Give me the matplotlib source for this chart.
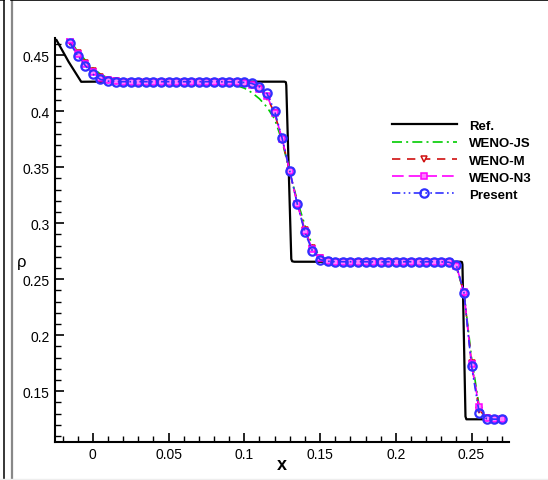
import matplotlib
matplotlib.use("Agg")
import matplotlib.pyplot as plt
from matplotlib.lines import Line2D
from matplotlib.ticker import MultipleLocator, FuncFormatter

plt.rcParams['font.family'] = ['Liberation Sans', 'DejaVu Sans']

# ---------------- data ----------------
x_num = [-0.015, -0.010, -0.005, 0.000, 0.005, 0.010, 0.015, 0.020, 0.025, 0.030,
         0.035, 0.040, 0.045, 0.050, 0.055, 0.060, 0.065, 0.070, 0.075, 0.080,
         0.085, 0.090, 0.095, 0.100, 0.105, 0.110, 0.115, 0.120, 0.125, 0.130,
         0.135, 0.140, 0.145, 0.150, 0.155, 0.160, 0.165, 0.170, 0.175, 0.180,
         0.185, 0.190, 0.195, 0.200, 0.205, 0.210, 0.215, 0.220, 0.225, 0.230,
         0.235, 0.240, 0.245, 0.250, 0.255, 0.260, 0.265, 0.270]

rho_present = [0.4604, 0.4494, 0.4407, 0.4330, 0.4283, 0.4268, 0.4264, 0.4263, 0.4263, 0.4263,
               0.4263, 0.4263, 0.4263, 0.4263, 0.4263, 0.4263, 0.4263, 0.4263, 0.4263, 0.4263,
               0.4262, 0.4261, 0.4260, 0.4256, 0.4247, 0.4217, 0.4158, 0.4000, 0.3756, 0.3464,
               0.3170, 0.2917, 0.2750, 0.2675, 0.2660, 0.2657, 0.2656, 0.2656, 0.2656, 0.2656,
               0.2656, 0.2656, 0.2656, 0.2656, 0.2656, 0.2656, 0.2656, 0.2656, 0.2656, 0.2655,
               0.2652, 0.2625, 0.2381, 0.1726, 0.1310, 0.1255, 0.1251, 0.1250]

rho_js = [0.4625, 0.4535, 0.4455, 0.4385, 0.4330, 0.4295, 0.4277, 0.4268, 0.4264, 0.4263,
          0.4263, 0.4263, 0.4263, 0.4263, 0.4263, 0.4262, 0.4262, 0.4261, 0.4260, 0.4258,
          0.4255, 0.4245, 0.4228, 0.4205, 0.4165, 0.4110, 0.4035, 0.3930, 0.3730, 0.3450,
          0.3200, 0.2980, 0.2800, 0.2703, 0.2668, 0.2659, 0.2657, 0.2656, 0.2656, 0.2656,
          0.2656, 0.2656, 0.2656, 0.2656, 0.2656, 0.2656, 0.2656, 0.2656, 0.2655, 0.2654,
          0.2648, 0.2605, 0.2380, 0.1800, 0.1370, 0.1275, 0.1256, 0.1251]

rho_m = [0.4615, 0.4515, 0.4430, 0.4355, 0.4305, 0.4280, 0.4268, 0.4264, 0.4263, 0.4263,
         0.4263, 0.4263, 0.4263, 0.4263, 0.4263, 0.4263, 0.4263, 0.4263, 0.4263, 0.4262,
         0.4261, 0.4259, 0.4256, 0.4250, 0.4232, 0.4195, 0.4125, 0.3980, 0.3745, 0.3462,
         0.3175, 0.2935, 0.2775, 0.2690, 0.2664, 0.2657, 0.2656, 0.2656, 0.2656, 0.2656,
         0.2656, 0.2656, 0.2656, 0.2656, 0.2656, 0.2656, 0.2656, 0.2656, 0.2656, 0.2655,
         0.2650, 0.2615, 0.2380, 0.1750, 0.1335, 0.1262, 0.1252, 0.1250]

rho_n3 = [0.4635, 0.4510, 0.4425, 0.4350, 0.4300, 0.4277, 0.4267, 0.4264, 0.4263, 0.4263,
          0.4263, 0.4263, 0.4263, 0.4263, 0.4263, 0.4263, 0.4263, 0.4263, 0.4263, 0.4262,
          0.4261, 0.4259, 0.4257, 0.4252, 0.4236, 0.4200, 0.4132, 0.3985, 0.3750, 0.3463,
          0.3172, 0.2930, 0.2768, 0.2685, 0.2662, 0.2657, 0.2656, 0.2656, 0.2656, 0.2656,
          0.2656, 0.2656, 0.2656, 0.2656, 0.2656, 0.2656, 0.2656, 0.2656, 0.2656, 0.2655,
          0.2651, 0.2618, 0.2385, 0.1740, 0.1360, 0.1265, 0.1253, 0.1250]

x_ref = [-0.0240, -0.0160, -0.0077, 0.0000, 0.1265, 0.1274, 0.1277, 0.1310, 0.1316, 0.1330,
         0.2430, 0.2437, 0.2440, 0.2460, 0.2466, 0.2700]
rho_ref = [0.4634, 0.4440, 0.4262, 0.4263, 0.4263, 0.4258, 0.4230, 0.2680, 0.2660, 0.2656,
           0.2656, 0.2652, 0.2630, 0.1275, 0.1250, 0.1250]

labels = ['Ref.', 'WENO-JS', 'WENO-M', 'WENO-N3', 'Present']
x_ticks = [0, 0.05, 0.1, 0.15, 0.2, 0.25]
y_ticks = [0.15, 0.2, 0.25, 0.3, 0.35, 0.4, 0.45]

# ---------------- figure ----------------
fig = plt.figure(figsize=(5.48, 4.81), dpi=100)
ax = fig.add_axes([55 / 548, 1 - 442.7 / 481, 454.4 / 548, 403.4 / 481])

ax.plot(x_ref, rho_ref, color='black', lw=1.6, label=labels[0], zorder=2)
ax.plot(x_num, rho_js, color='#00cc00', lw=1.2, dashes=(6, 2.5, 1.2, 2.5),
        label=labels[1], zorder=3)
ax.plot(x_num, rho_m, color='#d01010', lw=1.2, dashes=(5, 4),
        marker='v', ms=5, mfc='white', mec='#d01010', mew=1.1, label=labels[2], zorder=4)
ax.plot(x_num, rho_n3, color='#ff00ff', lw=1.2, dashes=(7, 3),
        marker='s', ms=4, mfc='#ff80ff', mec='#ff00ff', mew=1.1, label=labels[3], zorder=5)
ax.plot(x_num, rho_present, color='#3030ff', lw=1.2, dashes=(5, 2, 1, 2, 1, 2),
        marker='o', ms=6, mfc='none', mec='#3030ff', mew=1.6, label=labels[4], zorder=6)

ax.set_xlim(-0.025, 0.275)
ax.set_ylim(0.105, 0.465)
ax.set_xticks(x_ticks)
ax.set_yticks(y_ticks)
ax.xaxis.set_minor_locator(MultipleLocator(0.01))
ax.yaxis.set_minor_locator(MultipleLocator(0.01))
fmt = FuncFormatter(lambda v, p: '%g' % round(v, 4))
ax.xaxis.set_major_formatter(fmt)
ax.yaxis.set_major_formatter(fmt)

for s in ['top', 'right']:
    ax.spines[s].set_visible(False)
for s in ['left', 'bottom']:
    ax.spines[s].set_linewidth(1.5)

ax.tick_params(which='major', direction='in', length=6.5, width=1.2,
               labelsize=10, pad=4)
ax.tick_params(which='minor', direction='in', length=4, width=1.0)

ax.set_xlabel('x', fontsize=13, fontweight='bold')
ax.xaxis.set_label_coords((282 - 55) / 454.4, -(457 - 442.7) / 403.4)
ax.set_ylabel('ρ', fontsize=12, rotation=0, ha='center', va='center')
ax.yaxis.set_label_coords((22 - 55) / 454.4, (442.7 - 263) / 403.4)

leg = ax.legend(loc='upper left', bbox_to_anchor=(0.742, 0.798), frameon=False,
                prop={'weight': 'bold', 'size': 9.5}, handlelength=4.9,
                handletextpad=0.9, labelspacing=0.38, borderpad=0, borderaxespad=0)

# figure frame decorations
fig.add_artist(Line2D([4 / 548, 4 / 548], [0, 1 - 1 / 481], color='black', lw=1.1,
                      transform=fig.transFigure))
fig.add_artist(Line2D([0, 4 / 548], [1 - 1 / 481, 1 - 1 / 481], color='black', lw=1.1,
                      transform=fig.transFigure))
fig.add_artist(Line2D([11.8 / 548, 11.8 / 548], [0, 1 - 1 / 481], color='#888888', lw=1.6,
                      transform=fig.transFigure))
fig.add_artist(Line2D([11 / 548, 1], [1 - 1 / 481, 1 - 1 / 481], color='black', lw=1.2,
                      transform=fig.transFigure))
fig.add_artist(Line2D([0, 1], [1 / 481, 1 / 481], color='#eeeeee', lw=1.0,
                      transform=fig.transFigure))

fig.savefig('out.png', dpi=100)
